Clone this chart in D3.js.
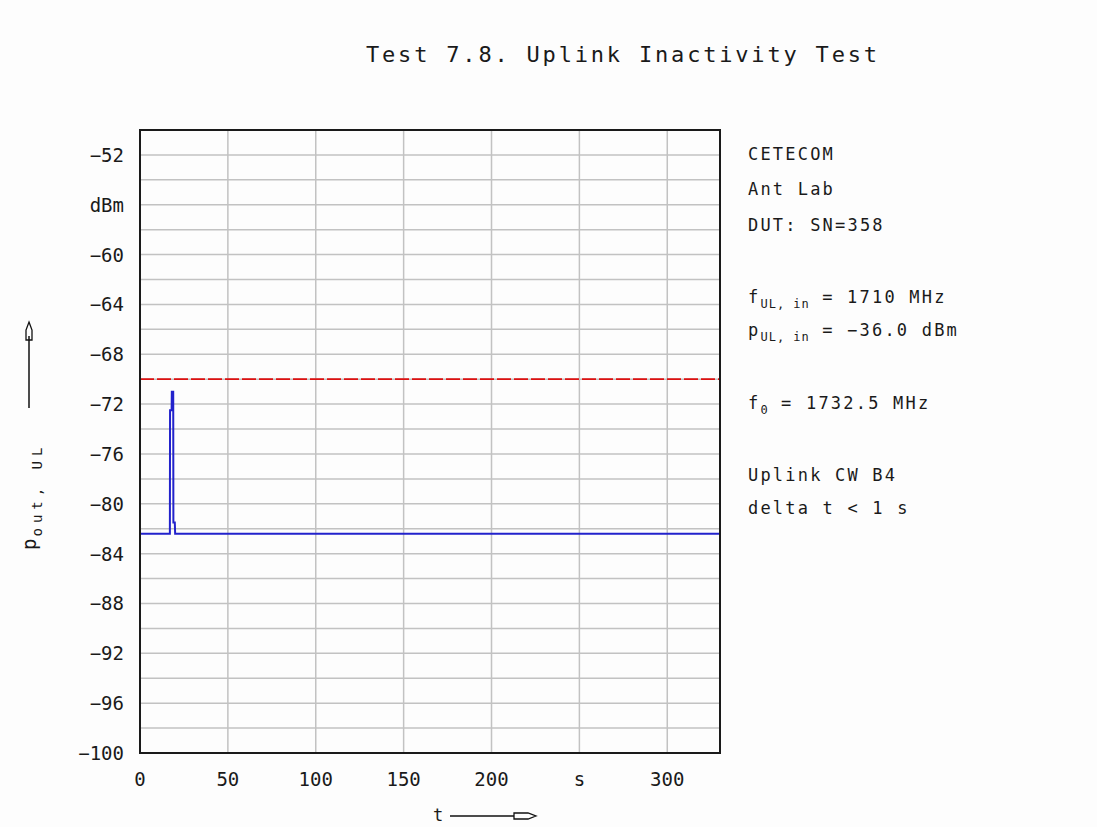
<!DOCTYPE html>
<html>
<head>
<meta charset="utf-8">
<script src="https://cdn.jsdelivr.net/npm/d3@7"></script>
<style>
  body { margin: 0; background: #fdfdfd; }
  text { font-family: "DejaVu Sans Mono", monospace; fill: #1a1a1a; }
</style>
</head>
<body>
<svg width="1097" height="827"></svg>
<script>
const svg = d3.select("svg");

// data
const xTicks = [0, 50, 100, 150, 200, 250, 300];
const xTickLabels = ["0", "50", "100", "150", "200", "s", "300"];
const yTicks = [-100, -96, -92, -88, -84, -80, -76, -72, -68, -64, -60, -56, -52];
const yTickLabels = ["−100", "−96", "−92", "−88", "−84", "−80", "−76", "−72", "−68", "−64", "−60", "dBm", "−52"];
const yGrid = d3.range(-98, -50, 2); // gridline every 2 dB
const limit = -70; // red dashed limit line
const tValues = [0, 17, 17.1, 18, 18.1, 18.9, 19, 19.8, 20, 330];
const pValues = [-82.4, -82.4, -72.5, -72.5, -71.0, -71.0, -81.5, -81.5, -82.4, -82.4];

const x = d3.scaleLinear().domain([0, 330]).range([140, 720]);
const y = d3.scaleLinear().domain([-100, -50]).range([753, 130]);

svg.append("rect").attr("width", 1097).attr("height", 827).attr("fill", "#fdfdfd");

// grid
const grid = svg.append("g").attr("stroke", "#c2c2c2").attr("stroke-width", 1.5);
grid.selectAll(".gy").data(yGrid).join("line")
  .attr("x1", x(0)).attr("x2", x(330))
  .attr("y1", d => y(d)).attr("y2", d => y(d));
grid.selectAll(".gx").data(xTicks.slice(1)).join("line")
  .attr("y1", y(-100)).attr("y2", y(-50))
  .attr("x1", d => x(d)).attr("x2", d => x(d));

// limit line
svg.append("line")
  .attr("x1", x(0)).attr("x2", x(330))
  .attr("y1", y(limit)).attr("y2", y(limit))
  .attr("stroke", "#dd1111").attr("stroke-width", 1.8)
  .attr("stroke-dasharray", "14,3");

// trace
const pts = tValues.map((t, i) => [t, pValues[i]]);
svg.append("path")
  .datum(pts)
  .attr("fill", "none")
  .attr("stroke", "#2222cc")
  .attr("stroke-width", 2)
  .attr("d", d3.line().x(d => x(d[0])).y(d => y(d[1])));

// frame
svg.append("rect")
  .attr("x", x(0)).attr("y", y(-50))
  .attr("width", x(330) - x(0)).attr("height", y(-100) - y(-50))
  .attr("fill", "none").attr("stroke", "#1a1a1a").attr("stroke-width", 2);

// axes labels
svg.append("g").selectAll("text").data(yTicks).join("text")
  .attr("x", 124).attr("y", d => y(d) + 7)
  .attr("text-anchor", "end").attr("font-size", 19)
  .text((d, i) => yTickLabels[i]);

svg.append("g").selectAll("text").data(xTicks).join("text")
  .attr("x", d => x(d)).attr("y", 786)
  .attr("text-anchor", "middle").attr("font-size", 19)
  .text((d, i) => xTickLabels[i]);

// title
svg.append("text")
  .attr("x", 366).attr("y", 62)
  .attr("font-size", 22)
  .attr("textLength", 511).attr("lengthAdjust", "spacing")
  .text("Test 7.8. Uplink Inactivity Test");

// info block
const info = svg.append("g").attr("font-size", 17).attr("letter-spacing", 2.2);
function infoLine(yy, parts) {
  const t = info.append("text").attr("x", 748).attr("y", yy);
  parts.forEach(p => {
    const s = t.append("tspan").text(p[0]);
    if (p[1]) s.attr("font-size", 12).attr("dy", 5).attr("letter-spacing", 1);
    else if (p[2]) s.attr("dy", -5);
  });
}
infoLine(160, [["CETECOM"]]);
infoLine(195, [["Ant Lab"]]);
infoLine(231, [["DUT: SN=358"]]);
infoLine(303, [["f"], ["UL, in", 1], [" = 1710 MHz", 0, 1]]);
infoLine(336, [["p"], ["UL, in", 1], [" = −36.0 dBm", 0, 1]]);
infoLine(409, [["f"], ["0", 1], [" = 1732.5 MHz", 0, 1]]);
infoLine(481, [["Uplink CW B4"]]);
infoLine(514, [["delta t < 1 s"]]);

// y axis title with arrow
const yl = svg.append("text")
  .attr("transform", "translate(36,550) rotate(-90)")
  .attr("font-size", 19).attr("letter-spacing", 2);
yl.append("tspan").text("p");
yl.append("tspan").text("out, UL").attr("font-size", 14).attr("dy", 6).attr("letter-spacing", 5);

const arrowStroke = "#111";
svg.append("line").attr("x1", 29).attr("x2", 29).attr("y1", 408).attr("y2", 336)
  .attr("stroke", arrowStroke).attr("stroke-width", 1.5);
svg.append("path").attr("d", "M29,322 L32,330 L32,340 L26,340 L26,330 Z")
  .attr("fill", "none").attr("stroke", arrowStroke).attr("stroke-width", 1.3);

// x axis title with arrow
svg.append("text").attr("x", 433).attr("y", 821).attr("font-size", 17).text("t");
svg.append("line").attr("x1", 450).attr("x2", 514).attr("y1", 816).attr("y2", 816)
  .attr("stroke", arrowStroke).attr("stroke-width", 1.5);
svg.append("path").attr("d", "M536,816 L528,819 L514,819 L514,813 L528,813 Z")
  .attr("fill", "none").attr("stroke", arrowStroke).attr("stroke-width", 1.3);
</script>
</body>
</html>
